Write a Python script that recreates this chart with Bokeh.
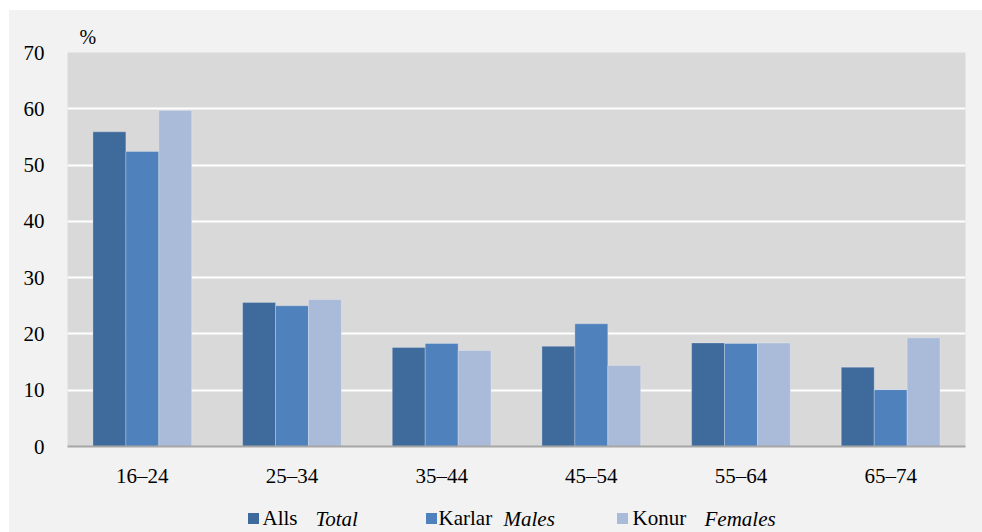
from bokeh.plotting import figure
from bokeh.models import FactorRange, Range1d, FixedTicker, ColumnDataSource
from bokeh.layouts import column
from bokeh.transform import dodge
from bokeh.core.properties import value
from bokeh.embed import file_html
from bokeh.resources import INLINE

categories = ["16–24", "25–34", "35–44", "45–54", "55–64", "65–74"]
alls = [55.9, 25.6, 17.6, 17.8, 18.4, 14.1]
karlar = [52.4, 25.0, 18.3, 21.8, 18.3, 10.1]
konur = [59.7, 26.1, 17.05, 14.4, 18.4, 19.3]
series_is = ["Alls", "Karlar", "Konur"]
series_en = ["Total", "Males", "Females"]
y_ticks = [0, 10, 20, 30, 40, 50, 60, 70]
unit_label = "%"

colors = ["#3f6a9c", "#4f81bd", "#aabbd9"]
FONT = "Liberation Serif"
BG = "#f2f2f2"

src = ColumnDataSource(dict(cat=categories, alls=alls, karlar=karlar, konur=konur))

p = figure(width=973, height=480, x_range=FactorRange(*categories), y_range=Range1d(0, 70),
           output_backend="svg", toolbar_location=None,
           min_border_left=58, min_border_right=17, min_border_top=42, min_border_bottom=34)
p.border_fill_color = BG
p.background_fill_color = "#d9d9d9"
p.outline_line_color = None

p.title.text = unit_label
p.title.align = "left"
p.title.offset = 12
p.title.standoff = 9
p.title.text_font = FONT
p.title.text_font_size = "20px"
p.title.text_font_style = "normal"
p.title.text_color = "#000000"

w = 0.22
for col, off, c in zip(["alls", "karlar", "konur"], [-w, 0, w], colors):
    p.vbar(x=dodge("cat", off, range=p.x_range), top=col, width=w, source=src,
           fill_color=c, line_color="#ffffff", line_alpha=0.25, line_width=1)

p.yaxis.ticker = FixedTicker(ticks=y_ticks)
p.yaxis.axis_line_color = None
p.yaxis.major_tick_line_color = None
p.yaxis.minor_tick_line_color = None
p.yaxis.major_label_standoff = 17
p.xaxis.axis_line_color = "#a6a6a6"
p.xaxis.axis_line_width = 2
p.xaxis.major_tick_line_color = None
p.xaxis.major_label_standoff = 11
for ax in (p.xaxis[0], p.yaxis[0]):
    ax.major_label_text_font = FONT
    ax.major_label_text_font_size = "21px"
    ax.major_label_text_color = "#000000"

p.xgrid.grid_line_color = None
p.ygrid.grid_line_color = "#ffffff"
p.ygrid.grid_line_width = 2

# legend strip under the chart; its frame is aligned with the chart's frame (x 67..965 px)
lg = figure(width=973, height=42, x_range=Range1d(67, 965), y_range=Range1d(42, 0),
            output_backend="svg", toolbar_location=None,
            min_border_left=58, min_border_right=17, min_border_top=0, min_border_bottom=0)
lg.axis.visible = False
lg.grid.visible = False
lg.border_fill_color = BG
lg.background_fill_color = BG
lg.outline_line_color = None

sq_x = [253, 431, 622]
lab_x = [262, 438, 632]
en_x = [315, 503, 704]
lg.scatter(x=sq_x, y=[28] * 3, marker="square", size=11, fill_color=colors, line_color=None)
lg.text(x=lab_x, y=[27.5] * 3, text=series_is, text_font=value(FONT), text_font_size="21px",
        text_baseline="middle", text_color="#000000")
lg.text(x=en_x, y=[28.5] * 3, text=series_en, text_font=value(FONT), text_font_size="21px",
        text_font_style="italic", text_baseline="middle", text_color="#000000")

layout = column(p, lg, spacing=0, margin=(10, 0, 0, 9), styles={"background-color": BG})
open("out.html", "w").write(file_html(layout, INLINE))
